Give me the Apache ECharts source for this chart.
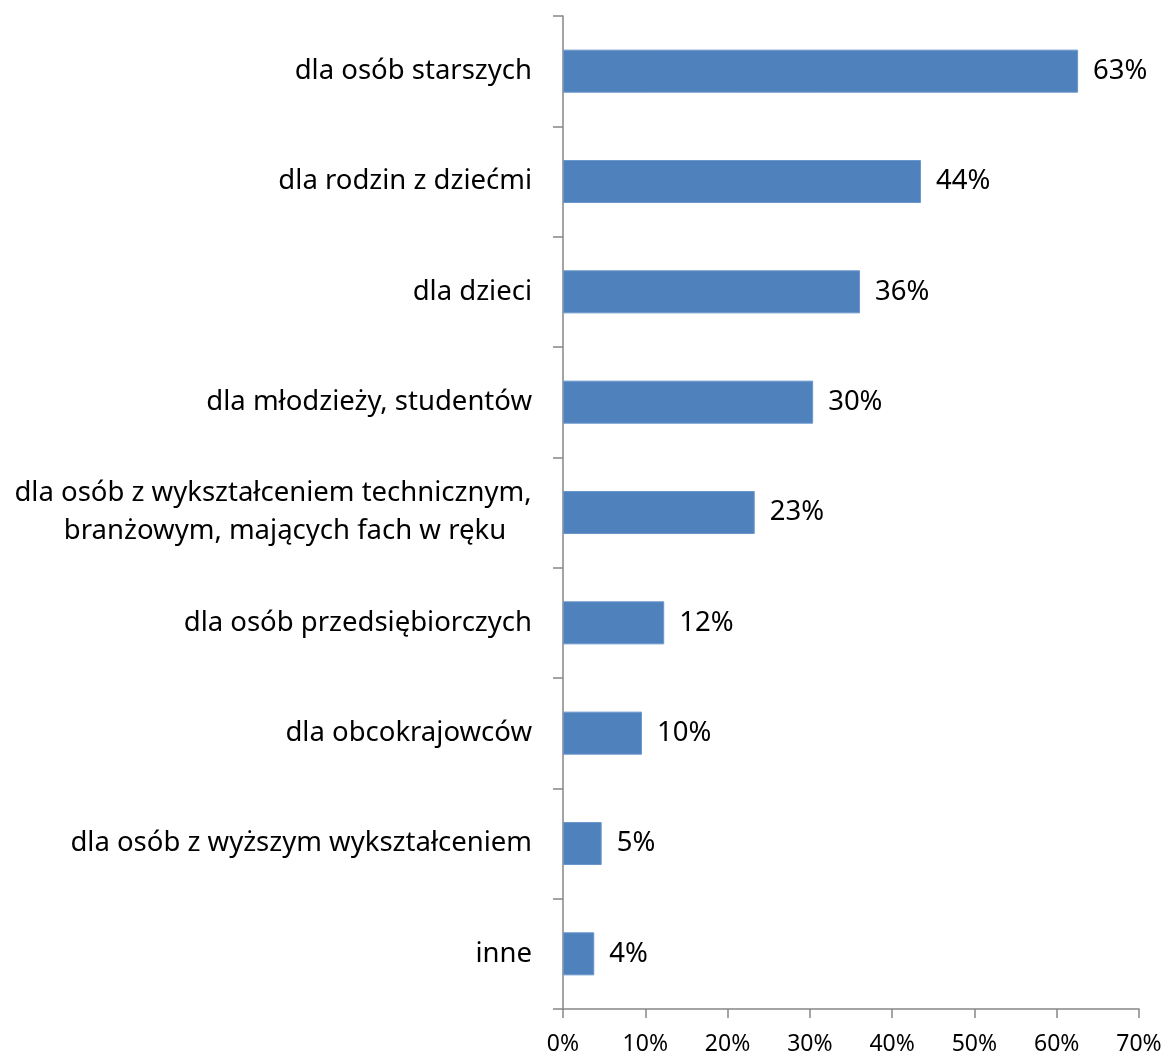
<!DOCTYPE html>
<html>
<head>
<meta charset="utf-8">
<script src="https://cdn.jsdelivr.net/npm/echarts@6/dist/echarts.min.js"></script>
<style>
  html, body { margin: 0; padding: 0; background: #fff; }
  #chart { width: 1165px; height: 1056px; }
</style>
</head>
<body>
<div id="chart"></div>
<script>
// kategorie (od góry)
var categories = [
  'dla osób starszych',
  'dla rodzin z dziećmi',
  'dla dzieci',
  'dla młodzieży, studentów',
  'dla osób z wykształceniem technicznym,\nbranżowym, mających fach w ręku',
  'dla osób przedsiębiorczych',
  'dla obcokrajowców',
  'dla osób z wyższym wykształceniem',
  'inne'
]
// udział w procentach
var values = [62.6, 43.5, 36.1, 30.4, 23.3, 12.3, 9.6, 4.7, 3.8]
var xTicks = [0, 10, 20, 30, 40, 50, 60, 70]

var FONT = 'Noto Sans'
var LABEL_SIZE = 27.5

// szerokość dłuższej linii, żeby wyśrodkować etykietę dwuwierszową
var ctx = document.createElement('canvas').getContext('2d')
ctx.font = LABEL_SIZE + 'px "' + FONT + '"'
var wideLine = Math.ceil(Math.max.apply(null, categories.join('\n').split('\n').map(function (s) {
  return ctx.measureText(s).width
})))

var chart = echarts.init(document.getElementById('chart'))

chart.setOption({
  animation: false,
  backgroundColor: '#fff',
  grid: {
    left: 563,
    right: 26,
    top: 16,
    bottom: 47,
    containLabel: false
  },
  xAxis: {
    type: 'value',
    min: xTicks[0],
    max: xTicks[xTicks.length - 1],
    interval: 10,
    axisLine: { show: true, lineStyle: { color: '#868686', width: 1.5 } },
    axisTick: { show: true, length: 9, lineStyle: { color: '#868686', width: 1.5 } },
    splitLine: { show: false },
    axisLabel: {
      color: '#000',
      fontFamily: FONT,
      fontSize: 23,
      margin: 24,
      formatter: function (v) { return v + '%' }
    }
  },
  yAxis: {
    type: 'category',
    inverse: true,
    data: categories,
    axisLine: { show: true, lineStyle: { color: '#868686', width: 1.5 } },
    axisTick: { show: true, length: 10, lineStyle: { color: '#868686', width: 1.5 } },
    axisLabel: {
      color: '#000',
      fontFamily: FONT,
      fontSize: LABEL_SIZE,
      margin: 31,
      lineHeight: 38,
      formatter: function (v) {
        if (v.indexOf('\n') < 0) return v
        var lines = v.split('\n')
        // druga linia lekko przesunięta w prawo, jak w oryginale
        return '{a|' + lines[0] + '}\n{s| }{b|' + lines[1] + '}'
      },
      rich: {
        a: {
          width: wideLine,
          align: 'center',
          fontFamily: FONT,
          fontSize: LABEL_SIZE,
          lineHeight: 38,
          color: '#000'
        },
        s: {
          width: 24,
          align: 'left',
          fontFamily: FONT,
          fontSize: LABEL_SIZE,
          lineHeight: 38
        },
        b: {
          align: 'center',
          fontFamily: FONT,
          fontSize: LABEL_SIZE,
          lineHeight: 38,
          color: '#000'
        }
      }
    }
  },
  series: [
    {
      type: 'bar',
      data: values,
      barCategoryGap: '61%',
      itemStyle: {
        color: '#4F81BD',
        borderColor: '#6A96CC',
        borderWidth: 1
      },
      label: {
        show: true,
        position: 'right',
        distance: 15,
        color: '#000',
        fontFamily: FONT,
        fontSize: LABEL_SIZE,
        formatter: function (p) { return Math.round(p.value) + '%' }
      }
    }
  ]
})
</script>
</body>
</html>
